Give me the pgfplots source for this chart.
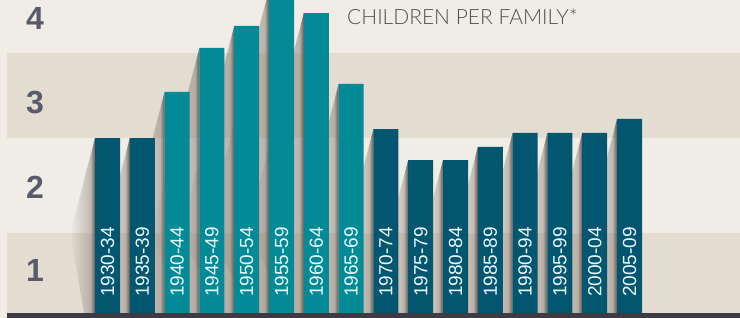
\documentclass[border=0pt]{standalone}
\usepackage{pgfplots}
\pgfplotsset{compat=1.18}
\usetikzlibrary{fadings}
\usepackage{fontspec}
\setmainfont{Liberation Sans}
\newfontfamily\titlefont{Lato}[UprightFont=* Light]
\definecolor{bgc}{HTML}{F0EDE6}
\definecolor{bandc}{HTML}{E2DCD1}
\definecolor{darkbar}{HTML}{03566F}
\definecolor{lightbar}{HTML}{028A96}
\definecolor{basec}{HTML}{3D3B44}
\definecolor{ylab}{HTML}{595A6B}
\definecolor{titlec}{HTML}{505052}
\definecolor{shc}{HTML}{7D726B}
\definecolor{shd}{HTML}{5A4E48}
\tikzfading[name=shfade, left color=transparent!100, right color=transparent!0]
\tikzset{
  wide/.style={draw=none, fill=shc, fill opacity=0.5, path fading=shfade},
  strip/.style={draw=none, fill=shd, fill opacity=0.85, path fading=shfade},
  blab/.style={rotate=90, anchor=west, inner sep=0pt, text=white!92!cyan, font=\fontsize{19}{19}\selectfont},
  ylb/.style={text=ylab, font=\fontsize{32}{32}\selectfont\bfseries, inner sep=0pt},
}
\begin{document}
\begin{tikzpicture}
\begin{axis}[
  x=34.8pt, y=84pt,
  xmin=-3.089, xmax=18.175, ymin=0.4405, ymax=4.226,
  axis lines=none, ticks=none,
  clip=true,
]
% background and bands
\addplot[draw=none, fill=bgc, forget plot] coordinates {(-3.089,0.4405) (18.175,0.4405) (18.175,4.226) (-3.089,4.226)} -- cycle;
\addplot[draw=none, fill=bandc, forget plot] coordinates {(-2.888,0.4405) (18.175,0.4405) (18.175,1.452) (-2.888,1.452)} -- cycle;
\addplot[draw=none, fill=bandc, forget plot] coordinates {(-2.888,2.583) (18.175,2.583) (18.175,3.595) (-2.888,3.595)} -- cycle;
% wide shadows
\addplot[wide, forget plot] coordinates {(-0.359,2.583) (-1.071,1.45) (-0.649,0.4405) (-0.359,0.4405)} -- cycle;
\addplot[wide, forget plot] coordinates {(0.641,2.583) (-0.071,1.45) (0.351,0.4405) (0.641,0.4405)} -- cycle;
\addplot[wide, forget plot] coordinates {(1.641,3.131) (0.585,1.45) (1.351,0.4405) (1.641,0.4405)} -- cycle;
\addplot[wide, forget plot] coordinates {(2.641,3.655) (1.256,1.45) (2.351,0.4405) (2.641,0.4405)} -- cycle;
\addplot[wide, forget plot] coordinates {(3.641,3.917) (2.092,1.45) (3.351,0.4405) (3.641,0.4405)} -- cycle;
\addplot[wide, forget plot] coordinates {(4.641,4.35) (2.820,1.45) (4.351,0.4405) (4.641,0.4405)} -- cycle;
\addplot[wide, forget plot] coordinates {(5.641,4.071) (3.995,1.45) (5.351,0.4405) (5.641,0.4405)} -- cycle;
\addplot[wide, forget plot] coordinates {(6.641,3.226) (5.526,1.45) (6.351,0.4405) (6.641,0.4405)} -- cycle;
\addplot[wide, forget plot] coordinates {(7.641,2.690) (6.862,1.45) (7.351,0.4405) (7.641,0.4405)} -- cycle;
\addplot[wide, forget plot] coordinates {(8.641,2.321) (8.094,1.45) (8.351,0.4405) (8.641,0.4405)} -- cycle;
\addplot[wide, forget plot] coordinates {(9.641,2.321) (9.094,1.45) (9.351,0.4405) (9.641,0.4405)} -- cycle;
\addplot[wide, forget plot] coordinates {(10.641,2.476) (9.997,1.45) (10.351,0.4405) (10.641,0.4405)} -- cycle;
\addplot[wide, forget plot] coordinates {(11.641,2.643) (10.892,1.45) (11.351,0.4405) (11.641,0.4405)} -- cycle;
\addplot[wide, forget plot] coordinates {(12.641,2.643) (11.892,1.45) (12.351,0.4405) (12.641,0.4405)} -- cycle;
\addplot[wide, forget plot] coordinates {(13.641,2.643) (12.892,1.45) (13.351,0.4405) (13.641,0.4405)} -- cycle;
\addplot[wide, forget plot] coordinates {(14.641,2.810) (13.787,1.45) (14.351,0.4405) (14.641,0.4405)} -- cycle;
% dark strips next to bars
\addplot[strip, forget plot] coordinates {(-0.359,2.583) (-0.489,2.376) (-0.489,0.4405) (-0.359,0.4405)} -- cycle;
\addplot[strip, forget plot] coordinates {(0.641,2.583) (0.511,2.376) (0.511,0.4405) (0.641,0.4405)} -- cycle;
\addplot[strip, forget plot] coordinates {(1.641,3.131) (1.511,2.924) (1.511,0.4405) (1.641,0.4405)} -- cycle;
\addplot[strip, forget plot] coordinates {(2.641,3.655) (2.511,3.448) (2.511,0.4405) (2.641,0.4405)} -- cycle;
\addplot[strip, forget plot] coordinates {(3.641,3.917) (3.511,3.710) (3.511,0.4405) (3.641,0.4405)} -- cycle;
\addplot[strip, forget plot] coordinates {(4.641,4.35) (4.511,4.143) (4.511,0.4405) (4.641,0.4405)} -- cycle;
\addplot[strip, forget plot] coordinates {(5.641,4.071) (5.511,3.864) (5.511,0.4405) (5.641,0.4405)} -- cycle;
\addplot[strip, forget plot] coordinates {(6.641,3.226) (6.511,3.019) (6.511,0.4405) (6.641,0.4405)} -- cycle;
\addplot[strip, forget plot] coordinates {(7.641,2.690) (7.511,2.483) (7.511,0.4405) (7.641,0.4405)} -- cycle;
\addplot[strip, forget plot] coordinates {(8.641,2.321) (8.511,2.114) (8.511,0.4405) (8.641,0.4405)} -- cycle;
\addplot[strip, forget plot] coordinates {(9.641,2.321) (9.511,2.114) (9.511,0.4405) (9.641,0.4405)} -- cycle;
\addplot[strip, forget plot] coordinates {(10.641,2.476) (10.511,2.269) (10.511,0.4405) (10.641,0.4405)} -- cycle;
\addplot[strip, forget plot] coordinates {(11.641,2.643) (11.511,2.436) (11.511,0.4405) (11.641,0.4405)} -- cycle;
\addplot[strip, forget plot] coordinates {(12.641,2.643) (12.511,2.436) (12.511,0.4405) (12.641,0.4405)} -- cycle;
\addplot[strip, forget plot] coordinates {(13.641,2.643) (13.511,2.436) (13.511,0.4405) (13.641,0.4405)} -- cycle;
\addplot[strip, forget plot] coordinates {(14.641,2.810) (14.511,2.603) (14.511,0.4405) (14.641,0.4405)} -- cycle;
% bars
\addplot[ybar, bar width=25pt, bar shift=0pt, draw=none, fill=darkbar] coordinates {
 (0,2.583) (1,2.583) (8,2.690) (9,2.321) (10,2.321) (11,2.476) (12,2.643) (13,2.643) (14,2.643) (15,2.810)};
\addplot[ybar, bar width=25pt, bar shift=0pt, draw=none, fill=lightbar] coordinates {
 (2,3.131) (3,3.655) (4,3.917) (5,4.35) (6,4.071) (7,3.226)};
% bottom base line
\addplot[draw=none, fill=basec, forget plot] coordinates {(-2.888,0.4405) (18.175,0.4405) (18.175,0.5) (-2.888,0.5)} -- cycle;
% bar labels
\node[blab] at (axis cs:0,0.69) {1930-34};
\node[blab] at (axis cs:1,0.69) {1935-39};
\node[blab] at (axis cs:2,0.69) {1940-44};
\node[blab] at (axis cs:3,0.69) {1945-49};
\node[blab] at (axis cs:4,0.69) {1950-54};
\node[blab] at (axis cs:5,0.69) {1955-59};
\node[blab] at (axis cs:6,0.69) {1960-64};
\node[blab] at (axis cs:7,0.69) {1965-69};
\node[blab] at (axis cs:8,0.69) {1970-74};
\node[blab] at (axis cs:9,0.69) {1975-79};
\node[blab] at (axis cs:10,0.69) {1980-84};
\node[blab] at (axis cs:11,0.69) {1985-89};
\node[blab] at (axis cs:12,0.69) {1990-94};
\node[blab] at (axis cs:13,0.69) {1995-99};
\node[blab] at (axis cs:14,0.69) {2000-04};
\node[blab] at (axis cs:15,0.69) {2005-09};
% y labels
\node[ylb] at (axis cs:-2.083,1) {1};
\node[ylb] at (axis cs:-2.083,2) {2};
\node[ylb] at (axis cs:-2.083,3) {3};
\node[ylb] at (axis cs:-2.083,4) {4};
% title
\node[anchor=base west, inner sep=0pt, text=titlec, font=\titlefont\fontsize{21}{21}\selectfont] at (axis cs:6.882,3.937) {CHILDREN PER FAMILY*};
\end{axis}
\end{tikzpicture}
\end{document}
